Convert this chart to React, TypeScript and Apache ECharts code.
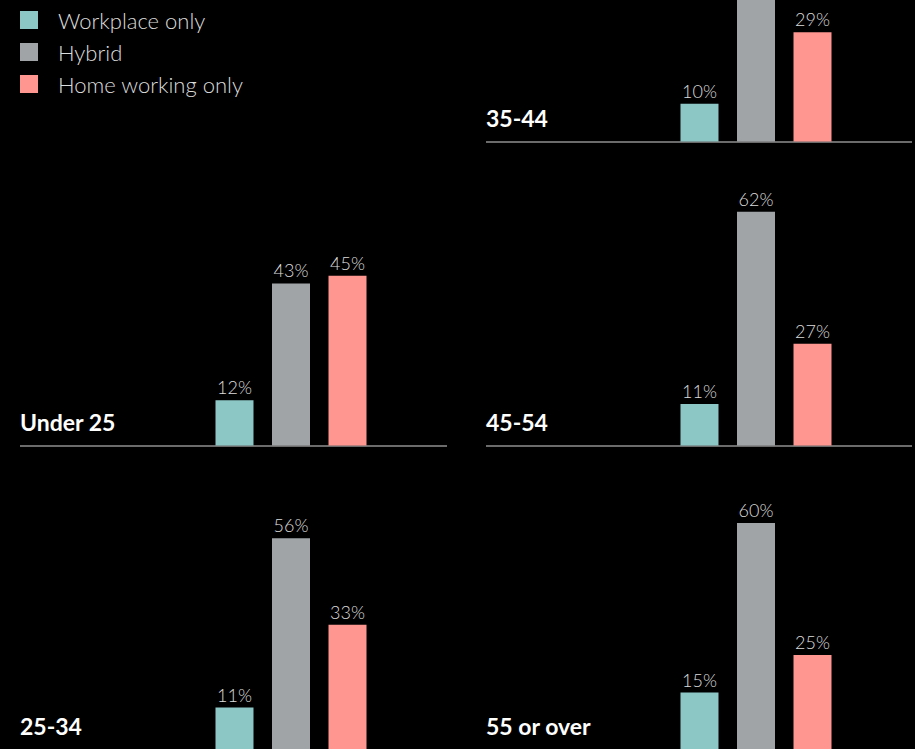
import React, { useEffect, useRef } from "react";
import * as echarts from "echarts";

const groups = ["Under 25", "25-34", "35-44", "45-54", "55 or over"];
const seriesNames = ["Workplace only", "Hybrid", "Home working only"];
const workplace = [12, 11, 10, 11, 15];
const hybrid = [43, 56, 61, 62, 60];
const home = [45, 33, 29, 27, 25];
const colors = ["#8cc7c6", "#a1a4a7", "#ff9690"];

// panel layout: column (0 left, 1 right) and baseline y (page coordinates)
const panelCol = [0, 0, 1, 1, 1];
const panelBase = [445.5, 749.5, 141.5, 445.5, 749.5];

const SHIFT = 304; // chart canvas extends above the visible page

export default function App() {
  const ref = useRef<HTMLDivElement>(null);
  useEffect(() => {
    const chart = echarts.init(ref.current!, null, { renderer: "svg" });
    const values = [workplace, hybrid, home];
    const plotH = 377;
    const colLeft = [20, 486];
    const colRight = [447, 912];
    const groupCenter = [291, 756];
    const grids: any[] = [];
    const xAxes: any[] = [];
    const yAxes: any[] = [];
    const series: any[] = [];
    const titles: any[] = [];
    const graphics: any[] = [];
    groups.forEach((g, i) => {
      const c = panelCol[i];
      const base = panelBase[i] + SHIFT;
      grids.push({ left: groupCenter[c] - 91, width: 182, top: base - plotH, height: plotH });
      xAxes.push({ type: "category", gridIndex: i, data: [g], show: false });
      yAxes.push({ type: "value", gridIndex: i, min: 0, max: 100, show: false });
      seriesNames.forEach((name, k) => {
        series.push({
          type: "bar",
          name,
          xAxisIndex: i,
          yAxisIndex: i,
          data: [values[k][i]],
          barWidth: 38,
          barGap: "48.7%",
          itemStyle: { color: colors[k] },
          label: {
            show: true,
            position: "top",
            distance: 4,
            formatter: "{c}%",
            color: "#dcdcdc",
            fontSize: 18,
            fontWeight: 300,
            fontFamily: "Lato, 'Noto Sans', sans-serif",
          },
        });
      });
      titles.push({
        text: g,
        left: colLeft[c],
        top: base - 35,
        textStyle: { color: "#ffffff", fontSize: 23, fontWeight: "bold", fontFamily: "Lato, 'Noto Sans', sans-serif" },
        padding: 0,
      });
      graphics.push({
        type: "line",
        shape: { x1: colLeft[c], y1: base + 0.5, x2: colRight[c], y2: base + 0.5 },
        style: { stroke: "#8f8f8f", lineWidth: 1.6 },
        silent: true,
      });
    });
    chart.setOption({
      animation: false,
      backgroundColor: "#000000",
      title: titles,
      legend: {
        data: seriesNames,
        orient: "vertical",
        left: 20,
        top: 9 + SHIFT,
        itemWidth: 18,
        itemHeight: 18,
        itemGap: 10,
        icon: "rect",
        selectedMode: false,
        padding: 0,
        textStyle: {
          color: "#dcdcdc",
          fontSize: 22,
          fontWeight: 300,
          fontFamily: "Lato, 'Noto Sans', sans-serif",
          padding: [0, 0, 0, 15],
        },
      },
      grid: grids,
      xAxis: xAxes,
      yAxis: yAxes,
      series,
      graphic: graphics,
    });
    return () => chart.dispose();
  }, []);
  return (
    <div style={{ position: "fixed", left: 0, top: 0, width: 915, height: 749, overflow: "hidden", background: "#000" }}>
      <div
        ref={ref}
        style={{ position: "absolute", left: 0, top: -SHIFT, width: 915, height: 749 + SHIFT }}
      />
    </div>
  );
}
